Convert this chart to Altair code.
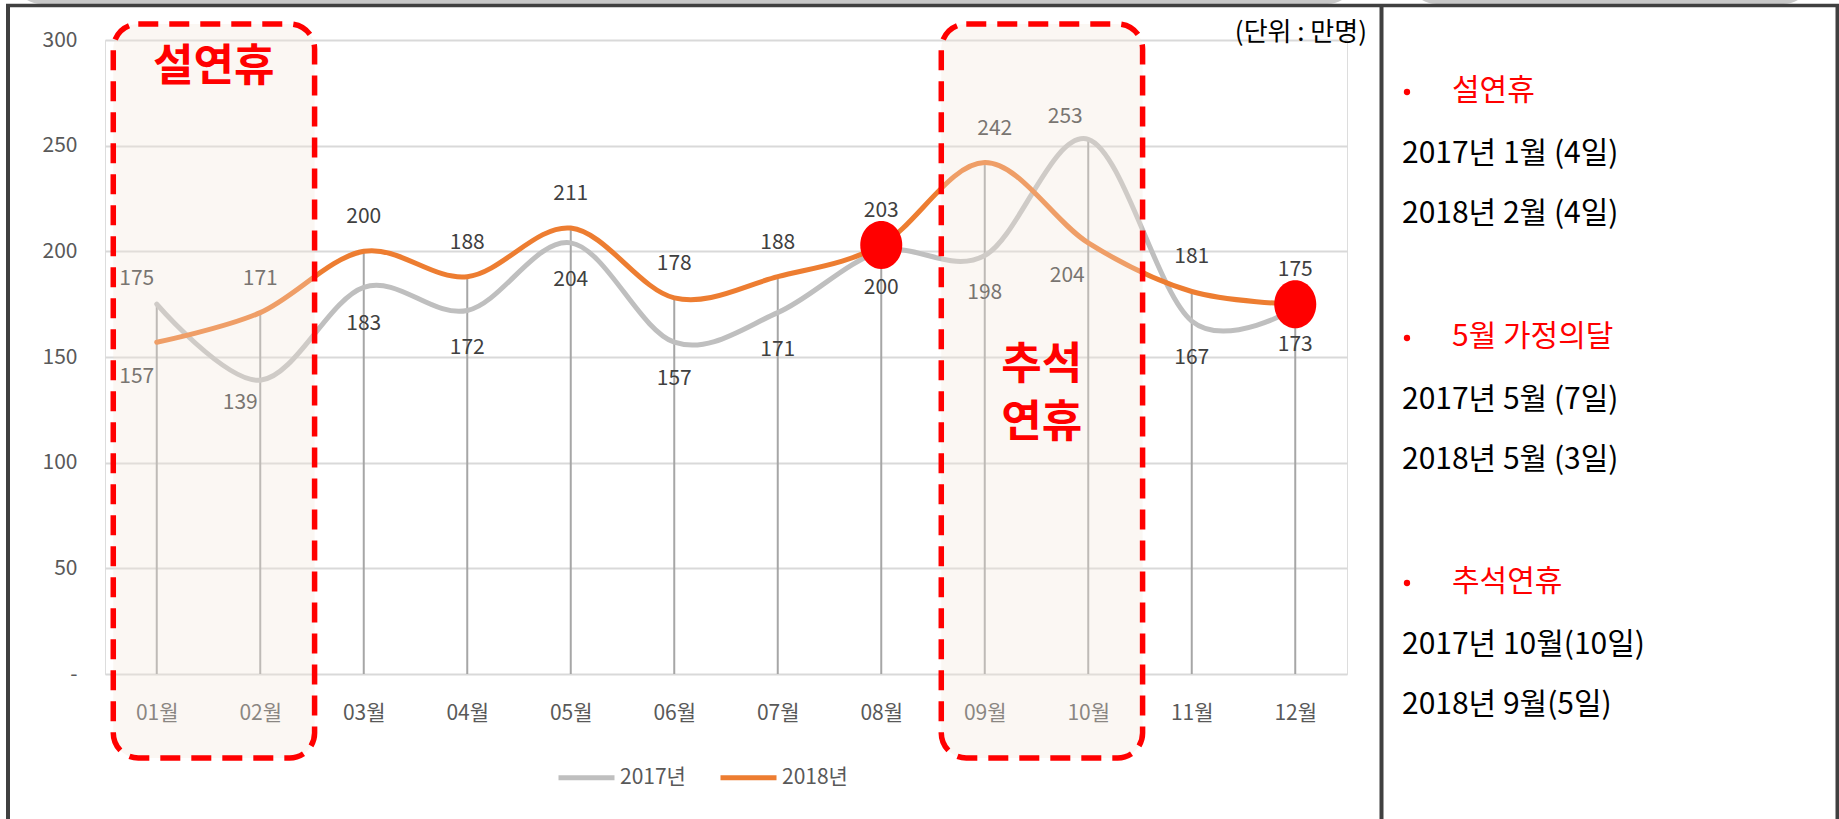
import altair as alt
import pandas as pd

# ---------------- data ----------------
months = list(range(1, 13))
series_names = ["2017년", "2018년"]
visitors_2017 = [175, 139, 183, 172, 204, 157, 171, 200, 198, 253, 167, 173]
visitors_2018 = [157, 171, 200, 188, 211, 178, 188, 203, 242, 204, 181, 175]
y_ticks = [0, 50, 100, 150, 200, 250, 300]
highlight_months = [8, 12]          # red markers on the 2018 series
holiday_starts = [1, 9]
holiday_ends = [2, 10]
holiday_titles = ["설연휴", "추석\n연휴"]
unit_text = "(단위 : 만명)"
note_headings = ["설연휴", "5월 가정의달", "추석연휴"]
note_lines_2017 = ["2017년 1월 (4일)", "2017년 5월 (7일)", "2017년 10월(10일)"]
note_lines_2018 = ["2018년 2월 (4일)", "2018년 5월 (3일)", "2018년 9월(5일)"]

# ---------------- styling ----------------
FONT = "Noto Sans CJK KR"
W, H = 1242, 634
PL, PT = 105, 40
GRAY_LINE = "#BFBFBF"
ORANGE = "#ED7D31"
RED = "#FF0000"
FRAME = "#404040"

rows = []
for name, vals in zip(series_names, [visitors_2017, visitors_2018]):
    for m, v in zip(months, vals):
        rows.append({"month": m, "series": name, "value": v})
df = pd.DataFrame(rows)
df["top"] = df.groupby("month")["value"].transform("max") == df["value"]
drop_df = df.groupby("month", as_index=False)["value"].max()
mark_df = df[(df["series"] == series_names[1]) & (df["month"].isin(highlight_months))]
box_df = pd.DataFrame({"start": holiday_starts, "end": holiday_ends, "title": holiday_titles})

x_enc = alt.X(
    "month:Q",
    scale=alt.Scale(domain=[0.5, 12.5], nice=False, zero=False),
    axis=alt.Axis(values=months, labelExpr="(datum.value < 10 ? '0' : '') + datum.value + '월'",
                  grid=False, domain=False, ticks=False, labelFontSize=21, labelColor="#595959",
                  labelPadding=28, title=None, labelFont=FONT),
)
y_enc = alt.Y(
    "value:Q",
    scale=alt.Scale(domain=[0, 300], nice=False),
    axis=alt.Axis(values=y_ticks,
                  labelExpr="datum.value == 0 ? '-\u00a0\u00a0\u00a0\u00a0\u00a0' : datum.label",
                  grid=True, gridColor="#D9D9D9", gridWidth=2, domain=False, ticks=False,
                  labelPadding=28, labelFontSize=21, labelColor="#595959", title=None,
                  labelFont=FONT),
)

layers = []

# drop lines
layers.append(
    alt.Chart(drop_df).mark_rule(color="#A6A6A6", strokeWidth=2).encode(
        x=alt.X("month:Q"), y=alt.Y("value:Q"), y2=alt.datum(0)
    )
)

# smoothed lines
layers.append(
    alt.Chart(df).mark_line(interpolate="cardinal", strokeWidth=5, strokeCap="round").encode(
        x=x_enc, y=y_enc,
        color=alt.Color("series:N",
                        scale=alt.Scale(domain=series_names, range=[GRAY_LINE, ORANGE]),
                        legend=alt.Legend(orient="none", legendX=451, legendY=707,
                                          direction="horizontal", title=None,
                                          symbolType="stroke", symbolSize=3136,
                                          symbolStrokeWidth=5, labelFontSize=21,
                                          labelColor="#595959", labelFont=FONT,
                                          labelOffset=3, columnPadding=24)),
        order=alt.Order("month:Q"),
    )
)

# data labels
nudges = {
    ("2017년", 1): (-20, 9),
    ("2018년", 1): (-20, -2),
    ("2017년", 2): (-20, -14),
    ("2017년", 10): (-23, 12),
    ("2018년", 10): (-21, -4),
    ("2018년", 9): (10, 0),
}
is_nudged = df.apply(lambda r: (r["series"], r["month"]) in nudges, axis=1)
for top_flag, dy in [(True, -34), (False, 37)]:
    sub = df[(df["top"] == top_flag) & (~is_nudged)]
    layers.append(
        alt.Chart(sub).mark_text(fontSize=21, color="#404040", dy=dy, baseline="middle",
                                 font=FONT).encode(
            x="month:Q", y="value:Q", text="value:Q")
    )
for (s, m), (ndx, ndy) in nudges.items():
    sub = df[(df["series"] == s) & (df["month"] == m)]
    base_dy = -34 if bool(sub["top"].iloc[0]) else 37
    layers.append(
        alt.Chart(sub).mark_text(fontSize=21, color="#404040", dx=ndx, dy=base_dy + ndy,
                                 baseline="middle", font=FONT).encode(
            x="month:Q", y="value:Q", text="value:Q")
    )

# red ellipse markers
ELLIPSE = "M-0.875,0A0.875,1,0,1,1,0.875,0A0.875,1,0,1,1,-0.875,0Z"
layers.append(
    alt.Chart(mark_df).mark_point(shape=ELLIPSE, size=2304, filled=True, fill=RED,
                                  opacity=1, strokeWidth=0).encode(
        x="month:Q", y="value:Q")
)

# holiday boxes (translucent overlay + dashed red border)
layers.append(
    alt.Chart(box_df).transform_calculate(
        x0="datum.start - 0.42", x1="datum.end + 0.525"
    ).mark_rect(fill="#F2E6D9", fillOpacity=0.32, stroke=RED, strokeWidth=5.5,
                strokeDash=[20, 11], cornerRadius=25).encode(
        x="x0:Q", x2="x1:Q", y=alt.value(-16), y2=alt.value(718))
)
box_title_y = [28, 326]
for i, ty in enumerate(box_title_y):
    layers.append(
        alt.Chart(box_df.iloc[[i]]).transform_calculate(
            xm="(datum.start + datum.end) / 2 + 0.05"
        ).mark_text(fontSize=44, fontWeight="bold", color=RED, font=FONT, lineBreak="\n",
                    lineHeight=58, baseline="middle", align="center").encode(
            x="xm:Q", y=alt.value(ty), text="title:N")
    )

one = pd.DataFrame({"k": [0]})

# unit text
layers.append(
    alt.Chart(one).mark_text(text=unit_text, fontSize=26, color="#000000", font=FONT,
                             align="right", baseline="middle").encode(
        x=alt.value(1262), y=alt.value(-7))
)

# top gray shapes (cropped shapes above the frame)
for gx0, gx1 in [(-93, 1252), (1302, 1708)]:
    layers.append(
        alt.Chart(one).mark_rect(fill="#C8C8C8", cornerRadius=30).encode(
            x=alt.value(gx0), x2=alt.value(gx1), y=alt.value(-100), y2=alt.value(-36))
    )

# frames
for fx in [-97, 1276.5, 1732.5]:
    layers.append(
        alt.Chart(one).mark_rule(color=FRAME, strokeWidth=4).encode(
            x=alt.value(fx), y=alt.value(-36), y2=alt.value(800))
    )
layers.append(
    alt.Chart(one).mark_rule(color=FRAME, strokeWidth=3.5).encode(
        x=alt.value(-99), x2=alt.value(1734.5), y=alt.value(-34.5))
)

# right-hand notes panel
group_tops = [51, 297, 542]
for g, gy in enumerate(group_tops):
    layers.append(
        alt.Chart(one).mark_point(shape="circle", size=40, filled=True, fill=RED,
                                  opacity=1, strokeWidth=0).encode(
            x=alt.value(1302), y=alt.value(gy + 1))
    )
    layers.append(
        alt.Chart(one).mark_text(text=note_headings[g], fontSize=30, color=RED, font=FONT,
                                 align="left", baseline="middle").encode(
            x=alt.value(1347), y=alt.value(gy))
    )
    for j, line in enumerate([note_lines_2017[g], note_lines_2018[g]]):
        layers.append(
            alt.Chart(one).mark_text(text=line, fontSize=30, color="#000000", font=FONT,
                                     align="left", baseline="middle").encode(
                x=alt.value(1297), y=alt.value(gy + 63 + 60 * j))
        )

chart = alt.layer(*layers).properties(
    width=W, height=H,
    padding={"left": PL, "top": PT, "right": 1839 - PL - W, "bottom": 819 - PT - H},
    autosize=alt.AutoSizeParams(type="none"),
    background="white",
).configure_view(stroke=None).configure(font=FONT)

chart.save("out.html", embed_options={"renderer": "svg", "actions": False})
